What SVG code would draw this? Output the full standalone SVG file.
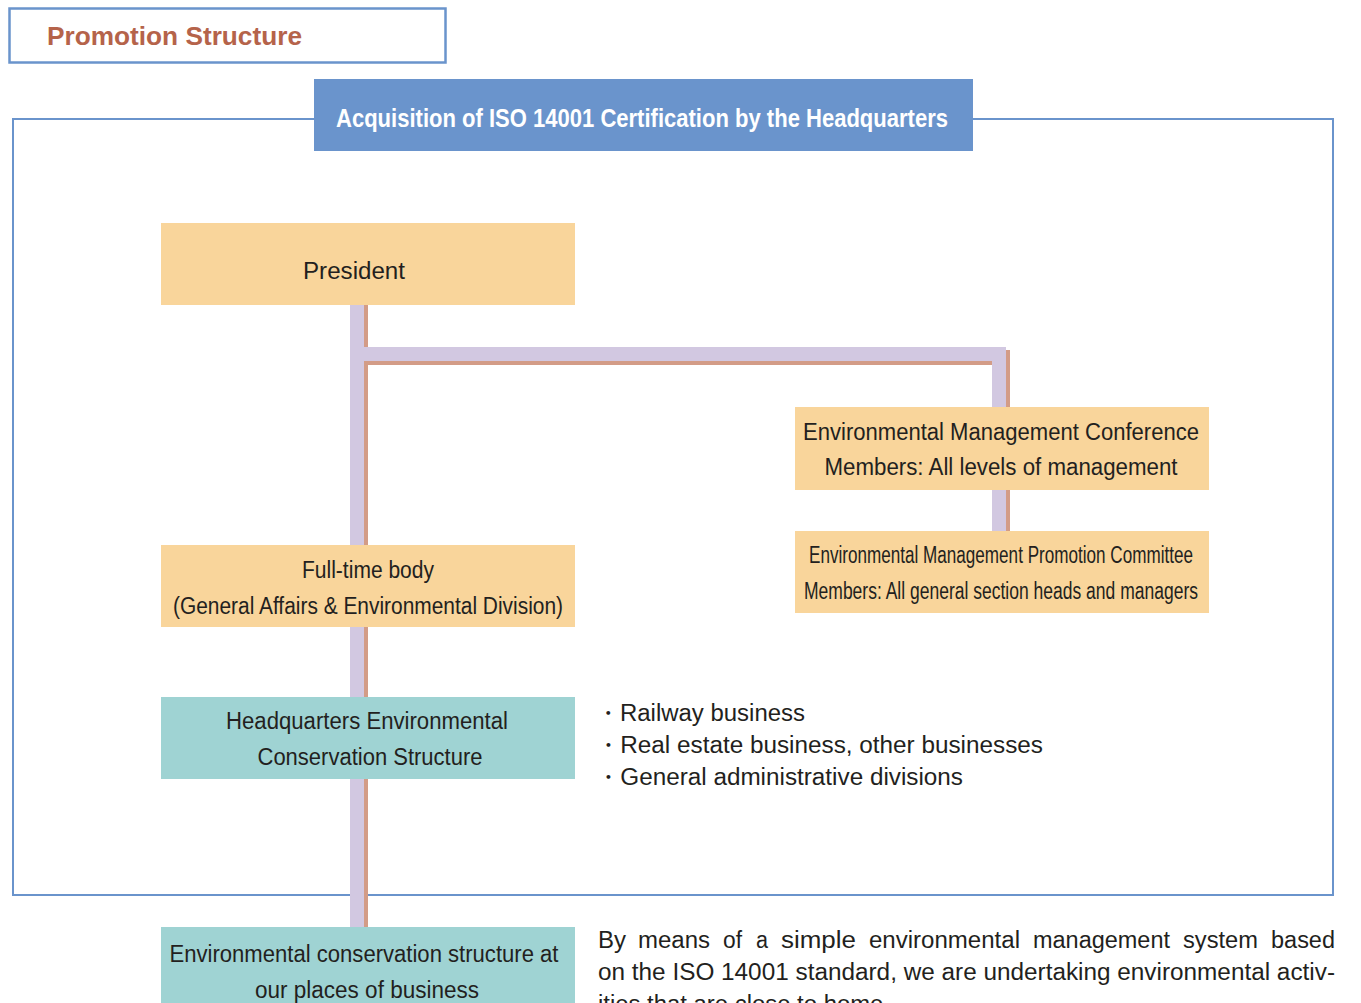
<svg xmlns="http://www.w3.org/2000/svg" width="1361" height="1003" viewBox="0 0 1361 1003">
<style>
.t{font-family:"Liberation Sans",Arial,sans-serif;font-size:23px;fill:#231f20;}
.c{text-anchor:middle;}
.y{fill:#f9d59b;}
.g{fill:#9fd3d3;}
.lav{fill:#d2c8e1;}
.br{fill:#d39c87;}
</style>
<rect width="1361" height="1003" fill="#fff"/>
<g id="title">
<rect x="9.5" y="8.5" width="436" height="54" fill="#fff" stroke="#6a94cc" stroke-width="2.5"/>
<text x="47" y="45" font-family="Liberation Sans,Arial,sans-serif" font-weight="bold" font-size="25" fill="#b5634a" textLength="255" lengthAdjust="spacingAndGlyphs">Promotion Structure</text>
</g>
<g id="frame">
<rect x="13" y="119" width="1320" height="776" fill="none" stroke="#6a94cc" stroke-width="2"/>
<rect x="314" y="79" width="659" height="72" fill="#6a94cc"/>
<text x="642" y="127" text-anchor="middle" font-family="Liberation Sans,Arial,sans-serif" font-weight="bold" font-size="26" fill="#fff" textLength="612" lengthAdjust="spacingAndGlyphs">Acquisition of ISO 14001 Certification by the Headquarters</text>
</g>
<g id="connectors">
<rect class="br" x="364" y="305" width="4" height="622"/>
<rect class="lav" x="350" y="305" width="14" height="622"/>
<rect class="br" x="368" y="361" width="624" height="4"/>
<rect class="br" x="1006" y="350" width="4" height="181"/>
<rect class="lav" x="350" y="347" width="656" height="14"/>
<rect class="lav" x="992" y="347" width="14" height="184"/>
</g>
<g id="president">
<rect class="y" x="161" y="223" width="414" height="82"/>
<text class="t c" x="354" y="279" textLength="102" lengthAdjust="spacingAndGlyphs">President</text>
</g>
<g id="emc">
<rect class="y" x="795" y="407" width="414" height="83"/>
<text class="t c" x="1001" y="440" textLength="396" lengthAdjust="spacingAndGlyphs">Environmental Management Conference</text>
<text class="t c" x="1001" y="475" textLength="353" lengthAdjust="spacingAndGlyphs">Members: All levels of management</text>
</g>
<g id="empc">
<rect class="y" x="795" y="531" width="414" height="82"/>
<text class="t c" x="1001" y="563" textLength="384" lengthAdjust="spacingAndGlyphs">Environmental Management Promotion Committee</text>
<text class="t c" x="1001" y="599" textLength="394" lengthAdjust="spacingAndGlyphs">Members: All general section heads and managers</text>
</g>
<g id="fulltime">
<rect class="y" x="161" y="545" width="414" height="82"/>
<text class="t c" x="368" y="578" textLength="132" lengthAdjust="spacingAndGlyphs">Full-time body</text>
<text class="t c" x="368" y="614" textLength="390" lengthAdjust="spacingAndGlyphs">(General Affairs &amp; Environmental Division)</text>
</g>
<g id="hq">
<rect class="g" x="161" y="697" width="414" height="82"/>
<text class="t c" x="367" y="729" textLength="282" lengthAdjust="spacingAndGlyphs">Headquarters Environmental</text>
<text class="t c" x="370" y="765" textLength="225" lengthAdjust="spacingAndGlyphs">Conservation Structure</text>
</g>
<g id="places">
<rect class="g" x="161" y="927" width="414" height="80"/>
<text class="t c" x="364" y="962" textLength="389" lengthAdjust="spacingAndGlyphs">Environmental conservation structure at</text>
<text class="t c" x="367" y="998" textLength="224" lengthAdjust="spacingAndGlyphs">our places of business</text>
</g>
<g id="bullets">
<text class="t" x="596" y="721" textLength="209" lengthAdjust="spacingAndGlyphs">・Railway business</text>
<text class="t" x="596" y="753" textLength="447" lengthAdjust="spacingAndGlyphs">・Real estate business, other businesses</text>
<text class="t" x="596" y="785" textLength="367" lengthAdjust="spacingAndGlyphs">・General administrative divisions</text>
</g>
<g id="para">
<text class="t" y="948"><tspan x="598" textLength="28" lengthAdjust="spacingAndGlyphs">By</tspan><tspan x="638" textLength="72" lengthAdjust="spacingAndGlyphs">means</tspan><tspan x="723" textLength="19" lengthAdjust="spacingAndGlyphs">of</tspan><tspan x="756" textLength="12" lengthAdjust="spacingAndGlyphs">a</tspan><tspan x="781" textLength="75" lengthAdjust="spacingAndGlyphs">simple</tspan><tspan x="869" textLength="151" lengthAdjust="spacingAndGlyphs">environmental</tspan><tspan x="1033" textLength="137" lengthAdjust="spacingAndGlyphs">management</tspan><tspan x="1183" textLength="75" lengthAdjust="spacingAndGlyphs">system</tspan><tspan x="1271" textLength="64" lengthAdjust="spacingAndGlyphs">based</tspan></text>
<text class="t" x="598" y="980" textLength="737" lengthAdjust="spacingAndGlyphs">on the ISO 14001 standard, we are undertaking environmental activ-</text>
<text class="t" x="598" y="1012" textLength="292" lengthAdjust="spacingAndGlyphs">ities that are close to home.</text>
</g>
</svg>
